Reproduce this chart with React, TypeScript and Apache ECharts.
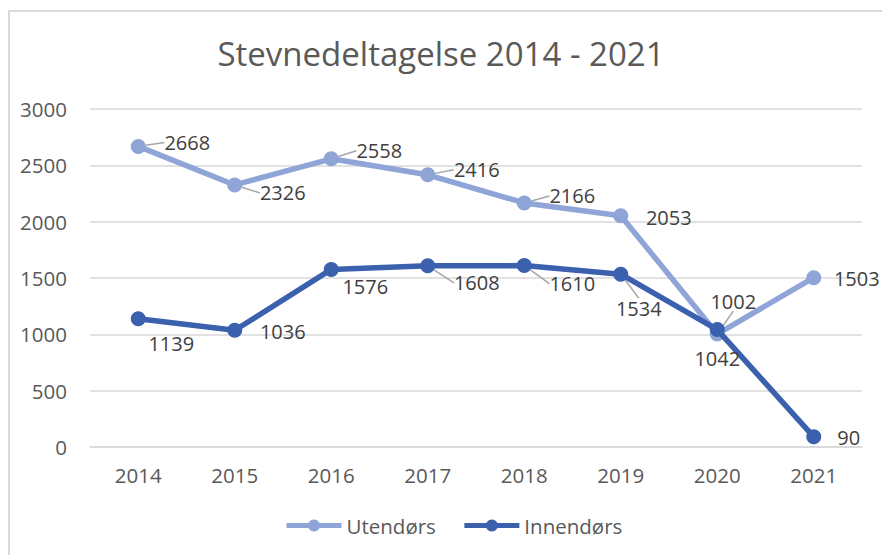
import React, { useEffect, useRef } from "react";
import * as echarts from "echarts";

const years = ["2014", "2015", "2016", "2017", "2018", "2019", "2020", "2021"];
const utendors = [2668, 2326, 2558, 2416, 2166, 2053, 1002, 1503];
const innendors = [1139, 1036, 1576, 1608, 1610, 1534, 1042, 90];
const yTicks = { min: 0, max: 3000, interval: 500 };

// label offsets (pixels from the point) and leader-line flags, styling only
const utOffsets = [[49, -4], [48, 8], [48, -8], [49, -5], [48, -7], [48, 2], [16, -33], [43, 1]];
const utLeader = [true, true, true, true, true, false, true, false];
const inOffsets = [[33, 25], [48, 1], [34, 17], [49, 17], [48, 18], [18, 34], [0, 29], [35, 1]];
const inLeader = [false, false, false, true, true, true, false, false];

const FONT = "Open Sans";
const LIGHT = "#8FA5D7";
const DARK = "#3B61AE";

export default function App() {
  const ref = useRef<HTMLDivElement>(null);
  useEffect(() => {
    const chart = echarts.init(ref.current!, null, { renderer: "svg" });
    const mkSeries = (name: string, vals: number[], color: string, offs: number[][], leader: boolean[]) => ({
      name,
      type: "line",
      data: vals.map((v, i) => ({
        value: v,
        labelLine: { show: leader[i], lineStyle: { color: "#A6A6A6", width: 1.5 } },
      })),
      symbol: "circle",
      symbolSize: 15,
      lineStyle: { color, width: 5.5 },
      itemStyle: { color },
      label: {
        show: true,
        position: "inside",
        color: "#404040",
        fontFamily: FONT,
        fontSize: 20,
      },
      labelLayout: (p: any) => ({ dx: offs[p.dataIndex][0], dy: offs[p.dataIndex][1] }),
      z: name === "Innendørs" ? 3 : 2,
    });
    chart.setOption({
      animation: false,
      backgroundColor: "#fff",
      title: {
        text: "Stevnedeltagelse 2014 - 2021",
        left: "center",
        top: 32,
        textStyle: { fontFamily: FONT, fontSize: 33, fontWeight: "normal", color: "#595959" },
      },
      legend: {
        bottom: 14,
        left: 279,
        itemWidth: 55,
        itemHeight: 15,
        itemGap: 26,
        textStyle: { fontFamily: FONT, fontSize: 20.5, color: "#595959" },
        lineStyle: { width: 5 },
        data: ["Utendørs", "Innendørs"],
      },
      grid: { left: 90, right: 20, top: 109, bottom: 108 },
      xAxis: {
        type: "category",
        data: years,
        boundaryGap: true,
        axisLine: { show: true, lineStyle: { color: "#D9D9D9", width: 1.5 } },
        axisTick: { show: false },
        axisLabel: { color: "#595959", fontFamily: FONT, fontSize: 20.5, margin: 17 },
      },
      yAxis: {
        type: "value",
        min: yTicks.min,
        max: yTicks.max,
        interval: yTicks.interval,
        axisLine: { show: false },
        axisTick: { show: false },
        axisLabel: {
          color: "#595959",
          fontFamily: FONT,
          fontSize: 20.5,
          margin: 23,
          formatter: (v: number) => String(v),
        },
        splitLine: { lineStyle: { color: "#D9D9D9", width: 1.5 } },
      },
      graphic: [
        { type: "line", shape: { x1: 9, y1: 11, x2: 9, y2: 555 }, style: { stroke: "#D9D9D9", lineWidth: 2 } },
        { type: "line", shape: { x1: 8, y1: 11, x2: 882, y2: 11 }, style: { stroke: "#D9D9D9", lineWidth: 2 } },
      ],
      series: [
        mkSeries("Utendørs", utendors, LIGHT, utOffsets, utLeader),
        mkSeries("Innendørs", innendors, DARK, inOffsets, inLeader),
      ],
    });
    return () => chart.dispose();
  }, []);
  return <div ref={ref} style={{ width: 882, height: 555, position: "absolute", left: 0, top: 0 }} />;
}
